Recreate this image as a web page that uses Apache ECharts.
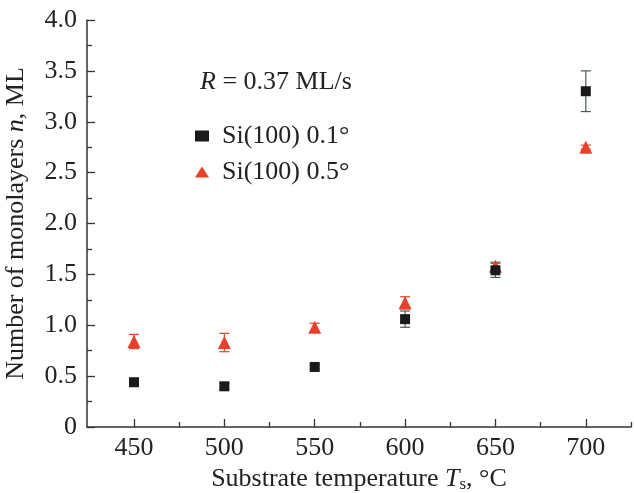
<!DOCTYPE html>
<html>
<head>
<meta charset="utf-8">
<script src="https://cdn.jsdelivr.net/npm/echarts@6/dist/echarts.min.js"></script>
<style>
  html, body { margin: 0; padding: 0; background: #fff; }
  #chart { width: 634px; height: 493px; }
</style>
</head>
<body>
<div id="chart"></div>
<script>
// substrate temperature, deg C
const temps = [450, 500, 550, 600, 650, 700];
// Si(100) 0.1 deg
const n01 = [0.44, 0.40, 0.59, 1.06, 1.54, 3.30];
const err01 = [0.03, 0.03, 0.02, 0.08, 0.07, 0.20];
// Si(100) 0.5 deg
const n05 = [0.84, 0.83, 0.98, 1.22, 1.58, 2.75];
const err05 = [0.07, 0.09, 0.04, 0.06, 0.04, 0.02];

const xMajor = [450, 500, 550, 600, 650, 700];
const xMinor = [475, 525, 575, 625, 675, 725];

const font = 'Liberation Serif';
const fs = 26;

function pts(ys) {
  return temps.map((t, i) => [t, ys[i]]);
}
function bars(ys, es) {
  return temps.map((t, i) => [t, ys[i] - es[i], ys[i] + es[i]]);
}

function errorBar(color) {
  return function (params, api) {
    const x = api.value(0);
    const lo = api.coord([x, api.value(1)]);
    const hi = api.coord([x, api.value(2)]);
    const hw = 5;
    const st = { stroke: color, lineWidth: 1.2 };
    return {
      type: 'group',
      children: [
        { type: 'line', shape: { x1: lo[0], y1: lo[1], x2: hi[0], y2: hi[1] }, style: st },
        { type: 'line', shape: { x1: lo[0] - hw, y1: lo[1], x2: lo[0] + hw, y2: lo[1] }, style: st },
        { type: 'line', shape: { x1: hi[0] - hw, y1: hi[1], x2: hi[0] + hw, y2: hi[1] }, style: st }
      ]
    };
  };
}

const myChart = echarts.init(document.getElementById('chart'));
myChart.setOption({
  animation: false,
  textStyle: { fontFamily: font },
  grid: { left: 87, right: 3, top: 20, bottom: 66, containLabel: false, outerBoundsMode: 'none' },
  legend: {
    orient: 'vertical',
    left: 190,
    top: 118,
    itemGap: 10,
    itemWidth: 14,
    itemHeight: 11,
    textStyle: { fontFamily: font, fontSize: fs, color: '#222', padding: [0, 0, 0, 8] },
    data: [
      { name: 'Si(100) 0.1°', icon: 'rect' },
      { name: 'Si(100) 0.5°', icon: 'triangle' }
    ]
  },
  graphic: [{
    type: 'text',
    left: 200,
    top: 69,
    style: {
      text: '{i|R} = 0.37 ML/s',
      font: fs + 'px "Liberation Serif"',
      fill: '#222',
      rich: { i: { fontStyle: 'italic', fontSize: fs, fontFamily: font, fill: '#222' } }
    }
  }],
  xAxis: [{
    type: 'value',
    min: 424,
    max: 725,
    name: '{n|Substrate temperature }{i|T}{s|s}{n|, °C}',
    nameLocation: 'middle',
    nameGap: 35,
    nameTextStyle: {
      rich: {
        n: { fontFamily: font, fontSize: fs, color: '#222' },
        i: { fontFamily: font, fontSize: fs, fontStyle: 'italic', color: '#222' },
        s: { fontFamily: font, fontSize: 17, color: '#222', padding: [12, 0, 0, 0] }
      }
    },
    axisLine: { lineStyle: { color: '#333', width: 1.5 } },
    axisTick: { inside: true, length: 8, customValues: xMajor, lineStyle: { color: '#333', width: 1.3 } },
    axisLabel: { customValues: xMajor, fontFamily: font, fontSize: fs, color: '#222', margin: 8 },
    splitLine: { show: false }
  }, {
    type: 'value',
    position: 'bottom',
    min: 424,
    max: 725,
    axisLine: { show: false },
    axisTick: { inside: true, length: 5, customValues: xMinor, lineStyle: { color: '#333', width: 1.3 } },
    axisLabel: { show: false },
    splitLine: { show: false }
  }],
  yAxis: {
    type: 'value',
    min: 0,
    max: 4,
    interval: 0.5,
    name: '{n|Number of monolayers }{i|n}{n|, ML}',
    nameLocation: 'middle',
    nameGap: 58,
    nameTextStyle: {
      rich: {
        n: { fontFamily: font, fontSize: fs, color: '#222' },
        i: { fontFamily: font, fontSize: fs, fontStyle: 'italic', color: '#222' }
      }
    },
    axisLine: { show: true, lineStyle: { color: '#333', width: 1.5 } },
    axisTick: { show: true, inside: true, length: 8, lineStyle: { color: '#333', width: 1.3 } },
    minorTick: { show: true, splitNumber: 2, length: 5, lineStyle: { color: '#333', width: 1.3 } },
    axisLabel: {
      fontFamily: font, fontSize: fs, color: '#222', margin: 10,
      formatter: v => (v === 0 ? '0' : v.toFixed(1))
    },
    splitLine: { show: false }
  },
  series: [
    {
      type: 'custom',
      renderItem: errorBar('#e8402a'),
      data: bars(n05, err05),
      encode: { x: 0, y: [1, 2] },
      z: 2
    },
    {
      type: 'custom',
      renderItem: errorBar('#4a5a5a'),
      data: bars(n01, err01),
      encode: { x: 0, y: [1, 2] },
      z: 2
    },
    {
      name: 'Si(100) 0.5°',
      type: 'scatter',
      symbol: 'triangle',
      symbolSize: 13,
      itemStyle: { color: '#e8402a', opacity: 1 },
      data: pts(n05),
      z: 3
    },
    {
      name: 'Si(100) 0.1°',
      type: 'scatter',
      symbol: 'rect',
      symbolSize: 10,
      itemStyle: { color: '#1a1a1a', opacity: 1 },
      data: pts(n01),
      z: 4
    }
  ]
});
</script>
</body>
</html>
